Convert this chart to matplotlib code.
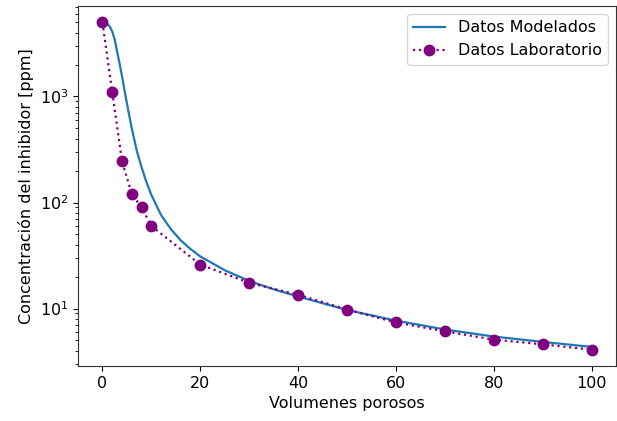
import matplotlib
matplotlib.use("Agg")
import matplotlib.pyplot as plt

# Modelled concentration curve (pore volumes vs ppm)
vp_modelo = [0, 0.5, 1, 1.5, 2, 2.5, 3, 3.5, 4, 4.5, 5, 6, 7, 8, 9, 10, 12, 14,
             16, 18, 20, 25, 30, 35, 40, 50, 60, 70, 80, 90, 100]
c_modelo = [5000, 4980, 4850, 4550, 4100, 3450, 2650, 2050, 1550, 1150, 860,
            500, 310, 215, 155, 118, 76, 56, 44, 36.5, 31, 23, 18.2, 15.2, 13.0,
            9.7, 7.7, 6.35, 5.45, 4.85, 4.35]

# Laboratory measurements
vp_lab = [0, 2, 4, 6, 8, 10, 20, 30, 40, 50, 60, 70, 80, 90, 100]
c_lab = [5000, 1100, 245, 120, 90, 60, 26, 17.5, 13.5, 9.8, 7.4, 6.1, 5.1, 4.6, 4.1]

fig = plt.figure(figsize=(6.17, 4.21), dpi=100)
ax = fig.add_axes([78 / 617, 55 / 421, 538 / 617, 360 / 421])

ax.plot(vp_modelo, c_modelo, color="#1f77b4", lw=1.6, label="Datos Modelados")
ax.plot(vp_lab, c_lab, color="purple", ls=":", lw=1.6, marker="o", ms=7.5,
        label="Datos Laboratorio")
ax.set_yscale("log")

ax.set_xlabel("Volumenes porosos", fontsize=11.5)
ax.set_ylabel("Concentración del inhibidor [ppm]", fontsize=11.5)
ax.tick_params(labelsize=11.5)
ax.legend(loc="upper right", fontsize=11.5)
for s in ax.spines.values():
    s.set_color("#333333")

fig.savefig("out.png", dpi=100)
